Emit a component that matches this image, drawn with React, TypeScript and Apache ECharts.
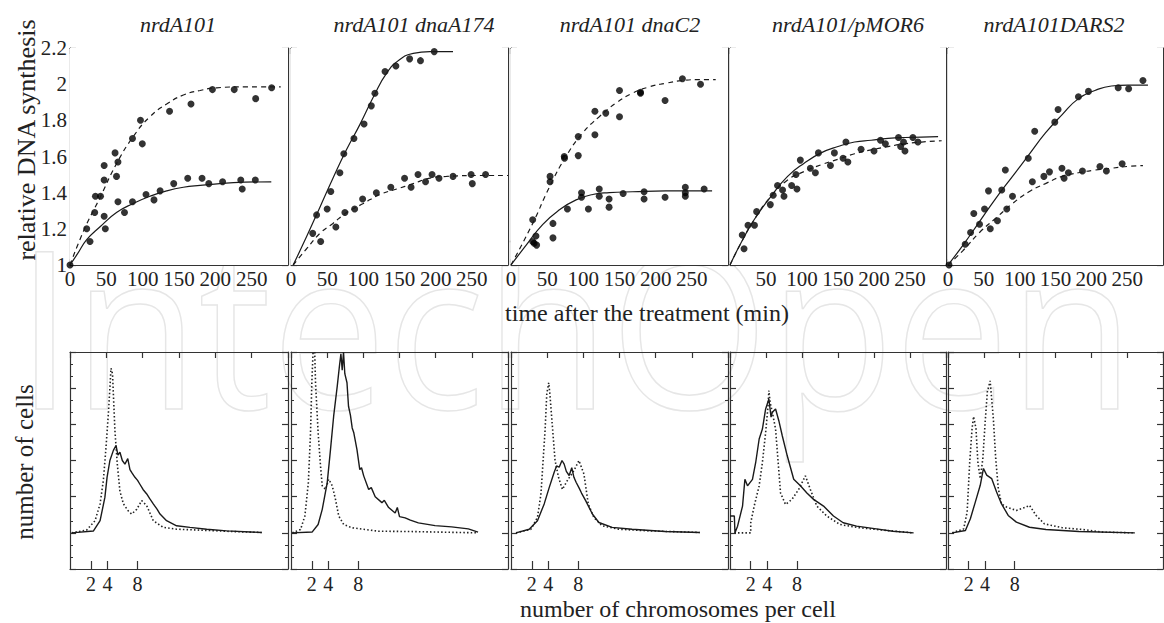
import React, { useEffect, useRef } from 'react';
import * as echarts from 'echarts';

// ---------- text ----------
const panelTitles = ['nrdA101', 'nrdA101 dnaA174', 'nrdA101 dnaC2', 'nrdA101/pMOR6', 'nrdA101DARS2'];
const topYName = 'relative DNA synthesis';
const topXName = 'time after the treatment (min)';
const bottomYName = 'number of cells';
const bottomXName = 'number of chromosomes per cell';
const chromTickPos = [9.6, 17.2, 31];
const chromTickLabels = ['2', '4', '8'];

// ---------- top panels: relative DNA synthesis vs time (min) ----------
// panel 1: nrdA101
const p1PtsA = [[0, 1.0], [34, 1.29], [35, 1.38], [42, 1.38], [47, 1.55], [47, 1.47], [62, 1.62], [64, 1.49], [66, 1.57], [86, 1.70], [97, 1.80], [99.5, 1.67], [137, 1.85], [166.5, 1.89], [196, 1.97], [226, 1.97], [255.5, 1.92], [277.5, 1.98]];
const p1PtsB = [[23, 1.20], [27.5, 1.13], [47, 1.27], [48.6, 1.20], [66, 1.35], [75, 1.29], [86, 1.35], [104.6, 1.39], [115.6, 1.36], [124, 1.41], [142.7, 1.45], [162, 1.48], [181.7, 1.48], [191, 1.45], [210, 1.46], [235, 1.47], [237, 1.42], [255, 1.47]];
const p1Solid = [[0, 1.0], [10, 1.06], [23, 1.14], [41, 1.21], [64, 1.29], [87, 1.34], [110, 1.38], [133, 1.41], [156, 1.43], [179, 1.44], [225, 1.455], [277, 1.46]];
const p1Dashed = [[0, 1.0], [20, 1.2], [41, 1.37], [64, 1.56], [87, 1.71], [110, 1.82], [133, 1.89], [156, 1.94], [179, 1.965], [202, 1.98], [240, 1.985], [290, 1.985]];

// panel 2: nrdA101 dnaA174
const p2PtsA = [[30, 1.175], [35.4, 1.277], [55, 1.406], [67.6, 1.51], [73, 1.615], [87, 1.70], [101, 1.78], [111, 1.88], [116, 1.95], [130, 2.07], [145, 2.10], [164, 2.14], [179, 2.13], [198, 2.18]];
const p2PtsB = [[41, 1.13], [50, 1.31], [62, 1.21], [74.5, 1.29], [88, 1.31], [99, 1.365], [118, 1.40], [138, 1.43], [157, 1.48], [166, 1.43], [175.6, 1.50], [186, 1.46], [195, 1.50], [204.6, 1.48], [224, 1.49], [249, 1.50], [250.6, 1.45], [269, 1.50]];
const p2Solid = [[3, 1.0], [21.6, 1.157], [40, 1.32], [58, 1.48], [77, 1.64], [95, 1.775], [114, 1.93], [132, 2.06], [150, 2.135], [169, 2.17], [192, 2.18], [224, 2.18]];
const p2Dashed = [[3, 1.0], [21.6, 1.09], [40, 1.175], [58, 1.23], [77, 1.29], [100, 1.34], [123, 1.39], [146, 1.42], [169, 1.45], [192, 1.48], [215, 1.49], [261, 1.495], [300, 1.495]];

// panel 3: nrdA101 dnaC2
const p3PtsA = [[30, 1.25], [54, 1.49], [54, 1.46], [73.6, 1.60], [74, 1.59], [93, 1.71], [93, 1.605], [116, 1.85], [116, 1.72], [131, 1.84], [150, 1.965], [150, 1.82], [179, 1.955], [179, 1.95], [213, 1.91], [237, 2.03], [262, 2.00]];
const p3PtsB = [[30, 1.13], [32, 1.12], [34.5, 1.16], [35.4, 1.11], [58, 1.23], [58, 1.15], [78, 1.31], [97.5, 1.40], [97.5, 1.375], [107, 1.31], [122, 1.42], [122, 1.38], [135.6, 1.365], [135.6, 1.32], [155, 1.395], [184, 1.405], [184, 1.365], [213, 1.375], [241, 1.43], [241, 1.40], [241, 1.38], [267, 1.42]];
const p3Solid = [[0, 1.0], [21, 1.11], [44, 1.225], [67, 1.305], [90, 1.36], [113, 1.39], [136, 1.40], [168, 1.405], [214, 1.41], [278, 1.41]];
const p3Dashed = [[0, 1.0], [30, 1.23], [53, 1.43], [76, 1.60], [99, 1.73], [122, 1.82], [145, 1.895], [168, 1.95], [191, 1.985], [214, 2.005], [237, 2.02], [260, 2.025], [283, 2.025]];

// panel 4: nrdA101/pMOR6
const p4PtsA = [[17, 1.166], [19.5, 1.09], [25, 1.22], [34, 1.22], [37, 1.295], [56, 1.334], [60, 1.386], [66, 1.44], [91.6, 1.50], [97.7, 1.58], [122.8, 1.62], [145, 1.62], [161, 1.68], [182, 1.64], [209, 1.69], [234, 1.705], [241, 1.68], [254, 1.705], [261, 1.68]];
const p4PtsB = [[73, 1.415], [75, 1.38], [85.6, 1.44], [93, 1.42], [111.6, 1.535], [118.6, 1.51], [139.5, 1.55], [157, 1.59], [163.7, 1.57], [200, 1.63], [215.8, 1.67], [237, 1.655], [243, 1.63]];
const p4Solid = [[0, 1.0], [15, 1.12], [33.5, 1.25], [57, 1.38], [80, 1.49], [103, 1.563], [126.5, 1.62], [150, 1.655], [173, 1.68], [196, 1.69], [219.5, 1.70], [243, 1.705], [289, 1.71]];
const p4Dashed = [[0, 1.0], [15, 1.12], [33.5, 1.25], [57, 1.38], [80, 1.47], [103, 1.517], [126.5, 1.554], [150, 1.585], [173, 1.615], [196, 1.637], [219.5, 1.655], [243, 1.67], [266, 1.68], [294, 1.687]];

// panel 5: nrdA101DARS2
const p5PtsA = [[1.4, 1.0], [24, 1.115], [31.5, 1.18], [36, 1.285], [51, 1.31], [56.5, 1.41], [75, 1.415], [80, 1.525], [112, 1.59], [121, 1.74], [149, 1.79], [153.6, 1.86], [182, 1.93], [196, 1.96], [237.5, 1.98], [252, 1.975], [272, 2.02]];
const p5PtsB = [[44, 1.225], [59, 1.20], [69, 1.245], [82, 1.31], [90, 1.38], [117.7, 1.46], [133.8, 1.49], [141.6, 1.515], [159, 1.535], [162, 1.48], [168, 1.51], [187.6, 1.52], [212, 1.545], [221, 1.52], [243, 1.56]];
const p5Solid = [[0, 1.0], [21, 1.11], [44, 1.24], [67, 1.37], [90, 1.49], [113, 1.61], [136, 1.73], [159, 1.83], [182, 1.92], [205, 1.965], [228, 1.99], [251, 1.995], [279, 1.995]];
const p5Dashed = [[0, 1.0], [21, 1.08], [44, 1.18], [67, 1.26], [90, 1.34], [113, 1.405], [136, 1.45], [159, 1.49], [182, 1.51], [205, 1.525], [228, 1.535], [251, 1.545], [272, 1.55]];

// ---------- bottom panels: number of cells vs chromosome channel ----------
const b1Solid = [[0.8, 0], [10.7, 1], [13.8, 6.7], [16, 19.6], [17, 30.7], [18.3, 40], [19.9, 45.6], [21.1, 48.3], [22, 43], [22.9, 44.6], [24, 40], [25.2, 38], [26.5, 41], [27.5, 35], [28.5, 33], [29.8, 30.7], [31, 29], [32, 27], [33.5, 24], [35.2, 21.5], [36.5, 19], [38.2, 16], [40, 13], [41.3, 10.4], [44.3, 6.7], [48.9, 3.9], [55, 3], [62.7, 2], [71.9, 1.1], [87.9, 0.2]];
const b1Dotted = [[0.8, 0], [7.6, 1.5], [11.5, 6.7], [13.8, 16], [15.3, 29], [16.5, 47], [17.6, 66], [18.3, 80], [18.8, 91], [19.5, 88], [20.6, 56.7], [21.7, 38], [22.9, 23], [24.5, 16], [26.8, 12], [28.3, 10.4], [30.6, 13], [32.9, 17.8], [35.2, 15], [38.2, 6.7], [42.8, 3], [48.9, 2], [59.6, 1.5], [75, 0.7], [88, 0.2]];
const b2Solid = [[0.6, 0], [9.8, 0.5], [12.5, 4.6], [14.4, 13], [16.7, 27.8], [18.2, 46], [19.7, 65], [21.3, 81], [22.3, 92], [23, 99], [23.6, 90], [24.2, 100], [24.8, 88], [25.8, 83], [26.5, 70], [27.4, 65], [28.2, 58], [28.9, 55.5], [30.4, 46], [31.7, 35], [32.5, 36], [33.5, 31.5], [35.8, 24], [37, 25], [38.8, 20], [41.9, 16.7], [43, 18], [45, 14], [48, 11], [49, 14], [50, 9], [52.6, 8.3], [55, 7], [58.7, 5.5], [66.4, 4], [74, 3.3], [81.7, 2.2], [86.2, 0.4]];
const b2Dotted = [[0.6, 0], [4.4, 1.85], [6.4, 9.3], [8, 27.8], [9, 55.5], [9.6, 83], [10.2, 101], [10.9, 101], [11.3, 83], [12.5, 55.5], [13.6, 37], [14.4, 26], [15.9, 24], [17.4, 29.6], [19, 26], [20.5, 18.5], [22, 9.3], [24.3, 4.6], [28.1, 2.8], [34.2, 1.85], [40.4, 0.9], [55.7, 0.7], [86, 0]];
const b3Solid = [[2.3, 0], [8.4, 2], [12.2, 6.7], [15.3, 16], [17.6, 25], [19.9, 33.5], [21, 37], [22.2, 36.3], [23.5, 40], [24.5, 38], [25.5, 34], [26.8, 31.7], [28, 36], [29, 30.7], [30, 28], [31.3, 25], [32.5, 22], [34.4, 17.8], [37.5, 10.4], [40.5, 5.7], [46.6, 3], [55.8, 2], [71, 0.7], [87, 0.2]];
const b3Dotted = [[2.3, 0], [9.2, 2], [12.2, 8.5], [13.8, 21.5], [14.8, 40], [15.7, 56.7], [16.5, 77], [17.4, 83], [17.9, 77], [19.1, 58.5], [20.3, 40], [21.9, 30.7], [23.7, 24], [26, 29], [29, 34.4], [31.3, 40], [33.6, 32.6], [35.6, 16], [38.2, 8.5], [42, 3.9], [49.7, 2], [63.5, 1.1], [87, 0.2]];
const b4Solid = [[0, 9.3], [2, 9.3], [2.3, 0], [3.5, 3.7], [5.8, 14.8], [6.9, 29.6], [8.1, 26], [10.4, 29.6], [11.9, 38.9], [13.5, 51.9], [15, 57.4], [16.5, 68.5], [18, 74], [19, 64], [19.6, 66.7], [21.1, 68.5], [22.6, 62], [24.2, 53.7], [26.5, 42.6], [29.5, 29.6], [32.6, 26], [35.6, 22], [38.7, 18.5], [43.3, 14.8], [47.9, 9.3], [52.4, 5.6], [58.6, 3.7], [67.7, 2.2], [75.4, 0.9], [85, 0]];
const b4Dotted = [[2, 0], [9.6, 0], [9.6, 5.6], [11.2, 14.8], [13.5, 26], [15, 38.9], [16.5, 55.5], [17.6, 70], [18, 78.7], [18.6, 72], [19.6, 66.7], [21.1, 57.4], [22.3, 38.9], [23.4, 22], [25.7, 15.7], [28.7, 18.5], [31.8, 24], [34.9, 31.5], [37.2, 24], [40.2, 14.8], [44.8, 9.3], [50.9, 4.6], [60, 2.8], [70.8, 1.5], [84.6, 0]];
const b5Solid = [[2, 0], [8.1, 1.3], [10.4, 7.8], [12.7, 17], [15, 26.3], [16.5, 35.6], [18, 31.9], [20.3, 30], [22.6, 22.6], [24.9, 16], [28, 9.6], [31.8, 5.9], [37.9, 3.1], [45.6, 1.85], [60.9, 0.7], [86.9, 0]];
const b5Dotted = [[2, 0], [7.3, 2.2], [8.9, 11.5], [10.1, 39], [11.2, 57.8], [11.9, 64.3], [13, 57.8], [13.9, 39], [15, 30], [16.2, 41], [17.3, 61.5], [18.3, 78], [19.6, 84], [21.1, 63], [22.2, 41], [23.4, 24.4], [24.9, 16], [27.2, 14.3], [31.8, 12.4], [36.4, 14.3], [37.9, 15.2], [41, 9.6], [44.8, 5], [53.2, 2.8], [63.9, 1.7], [71.6, 0.4], [86.9, 0]];

const topPanels = [
  { a: p1PtsA, b: p1PtsB, solid: p1Solid, dashed: p1Dashed },
  { a: p2PtsA, b: p2PtsB, solid: p2Solid, dashed: p2Dashed },
  { a: p3PtsA, b: p3PtsB, solid: p3Solid, dashed: p3Dashed },
  { a: p4PtsA, b: p4PtsB, solid: p4Solid, dashed: p4Dashed },
  { a: p5PtsA, b: p5PtsB, solid: p5Solid, dashed: p5Dashed },
];
const bottomPanels = [
  { solid: b1Solid, dotted: b1Dotted },
  { solid: b2Solid, dotted: b2Dotted },
  { solid: b3Solid, dotted: b3Dotted },
  { solid: b4Solid, dotted: b4Dotted },
  { solid: b5Solid, dotted: b5Dotted },
];

const SERIF = '"Liberation Serif", "Times New Roman", serif';
const INK = '#1a1a1a';
const AXIS = { color: '#333', width: 1.2 };

const lefts = [70, 291, 511, 730, 948];
const widths = [218, 217, 217, 216, 215];
const titleCenters = [178, 414, 630, 848, 1054];

function buildOption() {
  const grid: any[] = [];
  const xAxis: any[] = [];
  const yAxis: any[] = [];
  const series: any[] = [];

  for (let g = 0; g < 10; g++) {
    const i = g % 5;
    const isTop = g < 5;
    grid.push({
      left: lefts[i], width: widths[i], top: isTop ? 48 : 352, height: 217, containLabel: false,
      show: isTop, backgroundColor: '#fff', borderWidth: 0, z: 1,
    });

    if (isTop) {
      xAxis.push({
        type: 'value', gridIndex: g, min: 0, max: 300, interval: 50, position: 'bottom',
        axisLine: { show: true, onZero: false, lineStyle: AXIS },
        axisTick: { show: true, inside: true, length: 6, lineStyle: AXIS },
        axisLabel: { show: true, fontFamily: SERIF, fontSize: 21, color: '#222', margin: 3, showMaxLabel: false, showMinLabel: i !== 3 },
        splitLine: { show: false },
      });
    } else {
      xAxis.push({
        type: 'value', gridIndex: g, min: 0, max: 100, position: 'bottom',
        axisLine: { show: true, onZero: false, lineStyle: AXIS },
        axisTick: { show: true, inside: true, length: 8, lineStyle: AXIS, customValues: chromTickPos },
        axisLabel: {
          show: true, fontFamily: SERIF, fontSize: 20, color: '#222', margin: 5,
          customValues: chromTickPos,
          formatter: (v: number) => {
            const k = chromTickPos.findIndex((p) => Math.abs(p - v) < 1e-6);
            return k >= 0 ? chromTickLabels[k] : '';
          },
        },
        splitLine: { show: false },
      });
    }
    // top mirror axis
    xAxis.push({
      type: 'value', gridIndex: g, min: 0, max: 300, interval: 50, position: 'top',
      axisLine: { show: true, onZero: false, lineStyle: AXIS },
      axisTick: { show: true, inside: true, length: 6, lineStyle: AXIS },
      axisLabel: { show: false },
      splitLine: { show: false },
    });

    const yBase = isTop
      ? { min: 1, max: 2.2, interval: 0.2 }
      : { min: -20, max: 100, interval: 20 };
    yAxis.push({
      type: 'value', gridIndex: g, ...yBase, position: 'left',
      axisLine: { show: true, onZero: false, lineStyle: AXIS },
      axisTick: { show: true, inside: true, length: 6, lineStyle: AXIS },
      minorTick: { show: true, splitNumber: 3, length: 3, lineStyle: { color: '#333', width: 1 } },
      axisLabel: { show: isTop && i === 0, fontFamily: SERIF, fontSize: 21, color: '#222', margin: 3 },
      splitLine: { show: false },
    });
    yAxis.push({
      type: 'value', gridIndex: g, ...yBase, position: 'right',
      axisLine: { show: true, onZero: false, lineStyle: AXIS },
      axisTick: { show: true, inside: true, length: 6, lineStyle: AXIS },
      minorTick: { show: true, splitNumber: 3, length: 3, lineStyle: { color: '#333', width: 1 } },
      axisLabel: { show: false },
      splitLine: { show: false },
    });

    const xi = 2 * g;
    const yi = 2 * g;
    if (isTop) {
      const p = topPanels[i];
      series.push({
        type: 'line', xAxisIndex: xi, yAxisIndex: yi, data: p.solid, smooth: true, showSymbol: false,
        lineStyle: { color: INK, width: 1.2, type: 'solid' }, silent: true,
      });
      series.push({
        type: 'line', xAxisIndex: xi, yAxisIndex: yi, data: p.dashed, smooth: true, showSymbol: false,
        lineStyle: { color: INK, width: 1.2, type: [5, 4] }, silent: true,
      });
      series.push({
        type: 'scatter', xAxisIndex: xi, yAxisIndex: yi, data: p.a, symbol: 'circle', symbolSize: 7,
        itemStyle: { color: '#000' }, clip: false,
      });
      series.push({
        type: 'scatter', xAxisIndex: xi, yAxisIndex: yi, data: p.b, symbol: 'circle', symbolSize: 7,
        itemStyle: { color: '#000' }, clip: false,
      });
    } else {
      const p = bottomPanels[i];
      series.push({
        type: 'line', xAxisIndex: xi, yAxisIndex: yi, data: p.dotted, showSymbol: false,
        lineStyle: { color: '#222', width: 1.6, type: [1.5, 2.2] }, silent: true,
      });
      series.push({
        type: 'line', xAxisIndex: xi, yAxisIndex: yi, data: p.solid, showSymbol: false,
        lineStyle: { color: INK, width: 1.4, type: 'solid' }, silent: true,
      });
    }
  }

  const graphic: any[] = [
    {
      type: 'text', z: -10, zlevel: 0, silent: true, x: 16, y: 214, scaleX: 0.93,
      style: {
        text: 'IntechOpen', fontFamily: '"Open Sans", sans-serif', fontSize: 220, fontWeight: 'normal',
        fill: 'none', stroke: '#e6e6e6', lineWidth: 1.5,
      },
    },
    ...panelTitles.map((t, i) => ({
      type: 'text', x: titleCenters[i], y: 24, z: 10,
      style: { text: t, fontFamily: SERIF, fontStyle: 'italic', fontSize: 22, fill: '#222', align: 'center', verticalAlign: 'middle' },
    })),
    {
      type: 'text', x: 26, y: 140, rotation: Math.PI / 2, z: 10,
      style: { text: topYName, fontFamily: SERIF, fontSize: 26, fill: '#222', align: 'center', verticalAlign: 'middle' },
    },
    {
      type: 'text', x: 647, y: 313, z: 10,
      style: { text: topXName, fontFamily: SERIF, fontSize: 24, fill: '#222', align: 'center', verticalAlign: 'middle' },
    },
    {
      type: 'text', x: 24, y: 462, rotation: Math.PI / 2, z: 10,
      style: { text: bottomYName, fontFamily: SERIF, fontSize: 25, fill: '#222', align: 'center', verticalAlign: 'middle' },
    },
    {
      type: 'text', x: 678, y: 609, z: 10,
      style: { text: bottomXName, fontFamily: SERIF, fontSize: 24, fill: '#222', align: 'center', verticalAlign: 'middle' },
    },
  ];

  return {
    animation: false,
    backgroundColor: '#fff',
    grid, xAxis, yAxis, series, graphic,
  };
}

export default function App() {
  const ref = useRef<HTMLDivElement>(null);
  useEffect(() => {
    if (!ref.current) return;
    const chart = echarts.init(ref.current, undefined, { renderer: 'svg' });
    chart.setOption(buildOption() as any);
    return () => chart.dispose();
  }, []);
  return <div ref={ref} style={{ width: 1164, height: 623, position: 'absolute', left: 0, top: 0 }} />;
}
